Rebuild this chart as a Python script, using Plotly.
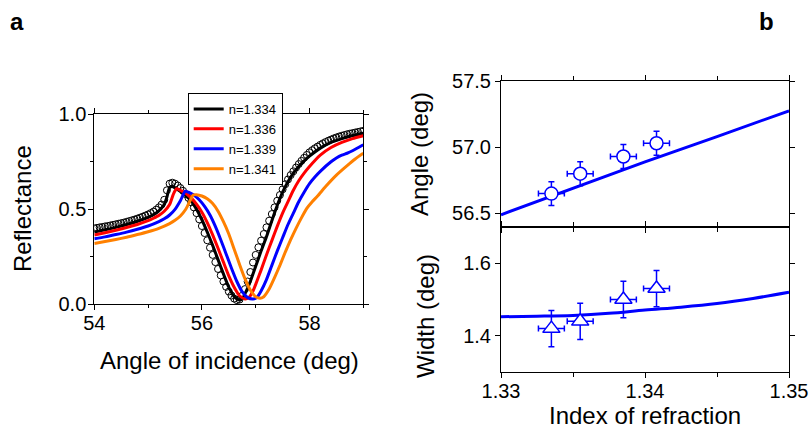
import plotly.graph_objects as go

# ---------------- Panel a data ----------------
exp_angle = [54.00, 54.05, 54.10, 54.15, 54.20, 54.25, 54.30, 54.35, 54.40, 54.45,
             54.50, 54.55, 54.60, 54.65, 54.70, 54.75, 54.80, 54.85, 54.90, 54.95,
             55.00, 55.05, 55.10, 55.15, 55.20, 55.25, 55.30, 55.35, 55.40, 55.45,
             55.50, 55.55, 55.60, 55.65, 55.70, 55.75, 55.80, 55.85, 55.90, 55.95,
             56.00, 56.05, 56.10, 56.15, 56.20, 56.25, 56.30, 56.35, 56.40, 56.45,
             56.50, 56.55, 56.60, 56.65, 56.70, 56.75, 56.80, 56.85, 56.90, 56.95,
             57.00, 57.05, 57.10, 57.15, 57.20, 57.25, 57.30, 57.35, 57.40, 57.45,
             57.50, 57.55, 57.60, 57.65, 57.70, 57.75, 57.80, 57.85, 57.90, 57.95,
             58.00, 58.05, 58.10, 58.15, 58.20, 58.25, 58.30, 58.35, 58.40, 58.45,
             58.50, 58.55, 58.60, 58.65, 58.70, 58.75, 58.80, 58.85, 58.90, 58.95, 59.00]
exp_refl = [0.400, 0.402, 0.405, 0.407, 0.410, 0.412, 0.415, 0.418, 0.421, 0.424,
            0.427, 0.430, 0.434, 0.438, 0.442, 0.446, 0.451, 0.456, 0.461, 0.467,
            0.473, 0.480, 0.488, 0.498, 0.510, 0.525, 0.550, 0.600, 0.635, 0.640,
            0.635, 0.625, 0.612, 0.597, 0.580, 0.560, 0.537, 0.510, 0.480, 0.447,
            0.412, 0.375, 0.337, 0.298, 0.260, 0.222, 0.186, 0.152, 0.120, 0.092,
            0.067, 0.046, 0.030, 0.022, 0.025, 0.045, 0.080, 0.120, 0.170, 0.220,
            0.260, 0.300, 0.335, 0.370, 0.405, 0.440, 0.475, 0.510, 0.545, 0.575,
            0.605, 0.632, 0.657, 0.680, 0.700, 0.720, 0.738, 0.755, 0.771, 0.786,
            0.800, 0.811, 0.821, 0.830, 0.839, 0.847, 0.854, 0.861, 0.867, 0.873,
            0.878, 0.883, 0.887, 0.891, 0.895, 0.898, 0.901, 0.904, 0.907, 0.910, 0.913]

n1334_angle = [54.0, 54.2, 54.4, 54.6, 54.8, 55.0, 55.1, 55.2, 55.3, 55.35, 55.4, 55.45,
               55.5, 55.6, 55.7, 55.8, 55.9, 56.0, 56.1, 56.2, 56.3, 56.4, 56.5, 56.6,
               56.7, 56.75, 56.8, 56.9, 57.0, 57.1, 57.2, 57.3, 57.4, 57.5, 57.6, 57.7,
               57.8, 57.9, 58.0, 58.2, 58.4, 58.6, 58.8, 59.0]
n1334_refl = [0.380, 0.392, 0.405, 0.420, 0.437, 0.458, 0.472, 0.492, 0.525, 0.565, 0.615, 0.620,
              0.612, 0.595, 0.572, 0.545, 0.500, 0.445, 0.380, 0.310, 0.235, 0.160, 0.090, 0.040,
              0.022, 0.030, 0.055, 0.120, 0.200, 0.280, 0.355, 0.440, 0.520, 0.590, 0.645, 0.690,
              0.725, 0.755, 0.780, 0.822, 0.852, 0.872, 0.888, 0.900]

n1336_angle = [54.0, 54.2, 54.4, 54.6, 54.8, 55.0, 55.1, 55.2, 55.3, 55.4, 55.47, 55.53,
               55.6, 55.7, 55.8, 55.9, 56.0, 56.1, 56.2, 56.3, 56.4, 56.5, 56.6, 56.7,
               56.8, 56.87, 56.95, 57.0, 57.1, 57.2, 57.3, 57.4, 57.5, 57.6, 57.7, 57.8,
               57.9, 58.0, 58.2, 58.4, 58.6, 58.8, 59.0]
n1336_refl = [0.365, 0.377, 0.390, 0.404, 0.420, 0.440, 0.453, 0.468, 0.490, 0.525, 0.580, 0.608,
              0.600, 0.585, 0.560, 0.527, 0.485, 0.430, 0.365, 0.295, 0.222, 0.150, 0.090, 0.045,
              0.028, 0.035, 0.070, 0.105, 0.180, 0.260, 0.335, 0.410, 0.480, 0.540, 0.600, 0.650,
              0.690, 0.725, 0.785, 0.825, 0.852, 0.872, 0.887]

n1339_angle = [54.0, 54.2, 54.4, 54.6, 54.8, 55.0, 55.2, 55.3, 55.4, 55.5, 55.6, 55.69,
               55.75, 55.85, 55.95, 56.05, 56.15, 56.25, 56.35, 56.45, 56.55, 56.65, 56.75,
               56.85, 56.95, 57.02, 57.1, 57.2, 57.3, 57.4, 57.5, 57.6, 57.7, 57.8, 57.9,
               58.0, 58.1, 58.2, 58.4, 58.5, 58.6, 58.7, 58.8, 59.0]
n1339_refl = [0.345, 0.355, 0.367, 0.380, 0.395, 0.412, 0.435, 0.450, 0.470, 0.500, 0.545, 0.595,
              0.590, 0.575, 0.550, 0.515, 0.470, 0.410, 0.340, 0.265, 0.190, 0.120, 0.065,
              0.035, 0.028, 0.035, 0.070, 0.130, 0.205, 0.280, 0.350, 0.420, 0.480, 0.540, 0.590,
              0.635, 0.670, 0.700, 0.750, 0.770, 0.785, 0.795, 0.808, 0.840]

n1341_angle = [54.0, 54.2, 54.4, 54.6, 54.8, 55.0, 55.2, 55.4, 55.5, 55.6, 55.7, 55.78, 55.84,
               55.9, 56.0, 56.1, 56.2, 56.3, 56.4, 56.5, 56.6, 56.7, 56.8, 56.9, 57.0, 57.08,
               57.15, 57.25, 57.35, 57.45, 57.55, 57.65, 57.75, 57.85, 57.95, 58.05, 58.15,
               58.3, 58.5, 58.7, 58.85, 59.0]
n1341_refl = [0.320, 0.330, 0.341, 0.353, 0.367, 0.382, 0.400, 0.425, 0.442, 0.465, 0.500, 0.545, 0.575,
              0.577, 0.570, 0.555, 0.530, 0.490, 0.435, 0.370, 0.290, 0.210, 0.135, 0.075, 0.040, 0.032,
              0.040, 0.080, 0.140, 0.205, 0.275, 0.340, 0.400, 0.455, 0.505, 0.540, 0.570,
              0.620, 0.680, 0.730, 0.765, 0.795]

legend_labels = ["n=1.334", "n=1.336", "n=1.339", "n=1.341"]
curve_colors = ["black", "#ff0000", "#0000ff", "#ff8000"]

# ---------------- Panel b data ----------------
meas_index = [1.3335, 1.3355, 1.3385, 1.3408]
meas_index_err = [0.0009, 0.0009, 0.0009, 0.0009]
meas_angle = [56.65, 56.80, 56.93, 57.03]
meas_angle_err = [0.09, 0.09, 0.09, 0.09]
meas_width = [1.42, 1.44, 1.50, 1.53]
meas_width_err = [0.05, 0.05, 0.05, 0.05]

theory_index = [1.33, 1.335, 1.34, 1.345, 1.35]
theory_angle = [56.49, 56.69, 56.89, 57.08, 57.275]
theory_index_w = [1.33, 1.3325, 1.335, 1.3375, 1.34, 1.3425, 1.345, 1.3475, 1.35]
theory_width = [1.4527, 1.454, 1.4563, 1.462, 1.471, 1.479, 1.489, 1.503, 1.52]

FONT = "Liberation Sans, Arial, sans-serif"
W, H = 811, 430

def fx(px):
    return px / W

def fy(py):
    return 1 - py / H

fig = go.Figure()

# Panel a
fig.add_trace(go.Scatter(x=exp_angle, y=exp_refl, mode="markers", showlegend=False,
                         marker=dict(symbol="circle-open", size=7, color="black",
                                     line=dict(width=1, color="black")),
                         xaxis="x", yaxis="y"))
for ang, ref, lab, col in zip([n1334_angle, n1336_angle, n1339_angle, n1341_angle],
                              [n1334_refl, n1336_refl, n1339_refl, n1341_refl],
                              legend_labels, curve_colors):
    fig.add_trace(go.Scatter(x=ang, y=ref, mode="lines", name=lab,
                             line=dict(color=col, width=3, shape="spline", smoothing=0.6),
                             xaxis="x", yaxis="y"))

# Panel b top
fig.add_trace(go.Scatter(x=theory_index, y=theory_angle, mode="lines", showlegend=False,
                         line=dict(color="#0000ff", width=3), xaxis="x2", yaxis="y2"))
fig.add_trace(go.Scatter(x=meas_index, y=meas_angle, mode="markers", showlegend=False,
                         marker=dict(symbol="circle", size=13, color="white",
                                     line=dict(width=1.5, color="#0000ff")),
                         error_y=dict(type="data", array=meas_angle_err, color="#0000ff",
                                      thickness=1.5, width=3),
                         error_x=dict(type="data", array=meas_index_err, color="#0000ff",
                                      thickness=1.5, width=3),
                         xaxis="x2", yaxis="y2"))
# Panel b bottom
fig.add_trace(go.Scatter(x=theory_index_w, y=theory_width, mode="lines", showlegend=False,
                         line=dict(color="#0000ff", width=3, shape="spline"),
                         xaxis="x3", yaxis="y3"))
fig.add_trace(go.Scatter(x=meas_index, y=meas_width, mode="markers", showlegend=False,
                         marker=dict(symbol="triangle-up", size=15, color="white",
                                     line=dict(width=1.5, color="#0000ff")),
                         error_y=dict(type="data", array=meas_width_err, color="#0000ff",
                                      thickness=1.5, width=3),
                         error_x=dict(type="data", array=meas_index_err, color="#0000ff",
                                      thickness=1.5, width=3),
                         xaxis="x3", yaxis="y3"))

tickfont = dict(family=FONT, size=20, color="black")
common = dict(showline=True, linecolor="black", linewidth=1, mirror="ticks",
              ticks="outside", ticklen=5, tickwidth=1, tickcolor="black",
              showgrid=False, zeroline=False, tickfont=tickfont, automargin=False)

fig.update_layout(
    template="none",
    width=W, height=H, margin=dict(l=0, r=0, t=0, b=0, pad=0),
    paper_bgcolor="white", plot_bgcolor="white",
    font=dict(family=FONT, color="black"),
    xaxis=dict(domain=[fx(94.3), fx(363.3)], range=[54, 59], tick0=54, dtick=2,
               ticklabelstandoff=-4,
               minor=dict(dtick=1, ticks="outside", ticklen=3, tickcolor="black"),
               anchor="y", **common),
    yaxis=dict(domain=[fy(304.3), fy(114.3)], range=[0, 1], tick0=0, dtick=0.5,
               tickformat=".1f", ticklabelstandoff=-2,
               minor=dict(dtick=0.25, ticks="outside", ticklen=3, tickcolor="black"),
               anchor="x", **common),
    xaxis2=dict(domain=[fx(501), fx(789)], range=[1.33, 1.35], tick0=1.33, dtick=0.01,
                showticklabels=False,
                minor=dict(dtick=0.005, ticks="outside", ticklen=4, tickcolor="black"),
                anchor="y2", **common),
    yaxis2=dict(domain=[fy(226.7), fy(81)], range=[56.4, 57.5], tick0=56.5, dtick=0.5,
                tickformat=".1f", anchor="x2", **common),
    xaxis3=dict(domain=[fx(501), fx(789)], range=[1.33, 1.35], tick0=1.33, dtick=0.01,
                tickformat=".2f", ticklabelstandoff=-4,
                minor=dict(dtick=0.005, ticks="outside", ticklen=4, tickcolor="black"),
                anchor="y3", **common),
    yaxis3=dict(domain=[fy(372.3), fy(226.7)], range=[1.3, 1.7], tick0=1.4, dtick=0.2,
                tickformat=".1f", anchor="x3", **common),
    legend=dict(x=fx(187.7), y=fy(93), xanchor="left", yanchor="top",
                bgcolor="white", bordercolor="black", borderwidth=1,
                font=dict(family=FONT, size=13, color="black"),
                itemwidth=30, tracegroupgap=0),
)

title_font = dict(family=FONT, size=24, color="black")
annos = [
    dict(text="Reflectance", x=fx(23), y=fy(209), textangle=-90),
    dict(text="Angle of incidence (deg)", x=fx(229), y=fy(360)),
    dict(text="Angle (deg)", x=fx(420), y=fy(154), textangle=-90),
    dict(text="Width (deg)", x=fx(425), y=fy(316), textangle=-90),
    dict(text="Index of refraction", x=fx(645), y=fy(415)),
    dict(text="<b>a</b>", x=fx(17), y=fy(21)),
    dict(text="<b>b</b>", x=fx(766), y=fy(22)),
]
for a in annos:
    fnt = title_font if not a["text"].startswith("<b>") else dict(family=FONT, size=24, color="black")
    fig.add_annotation(xref="paper", yref="paper", showarrow=False,
                       xanchor="center", yanchor="middle", font=fnt, **a)

# remove the browser's default page margin so the 811x430 figure fills the window exactly
fig.write_html("out.html", config={"displayModeBar": False},
               post_script="document.body.style.margin='0';document.body.style.overflow='hidden';")
